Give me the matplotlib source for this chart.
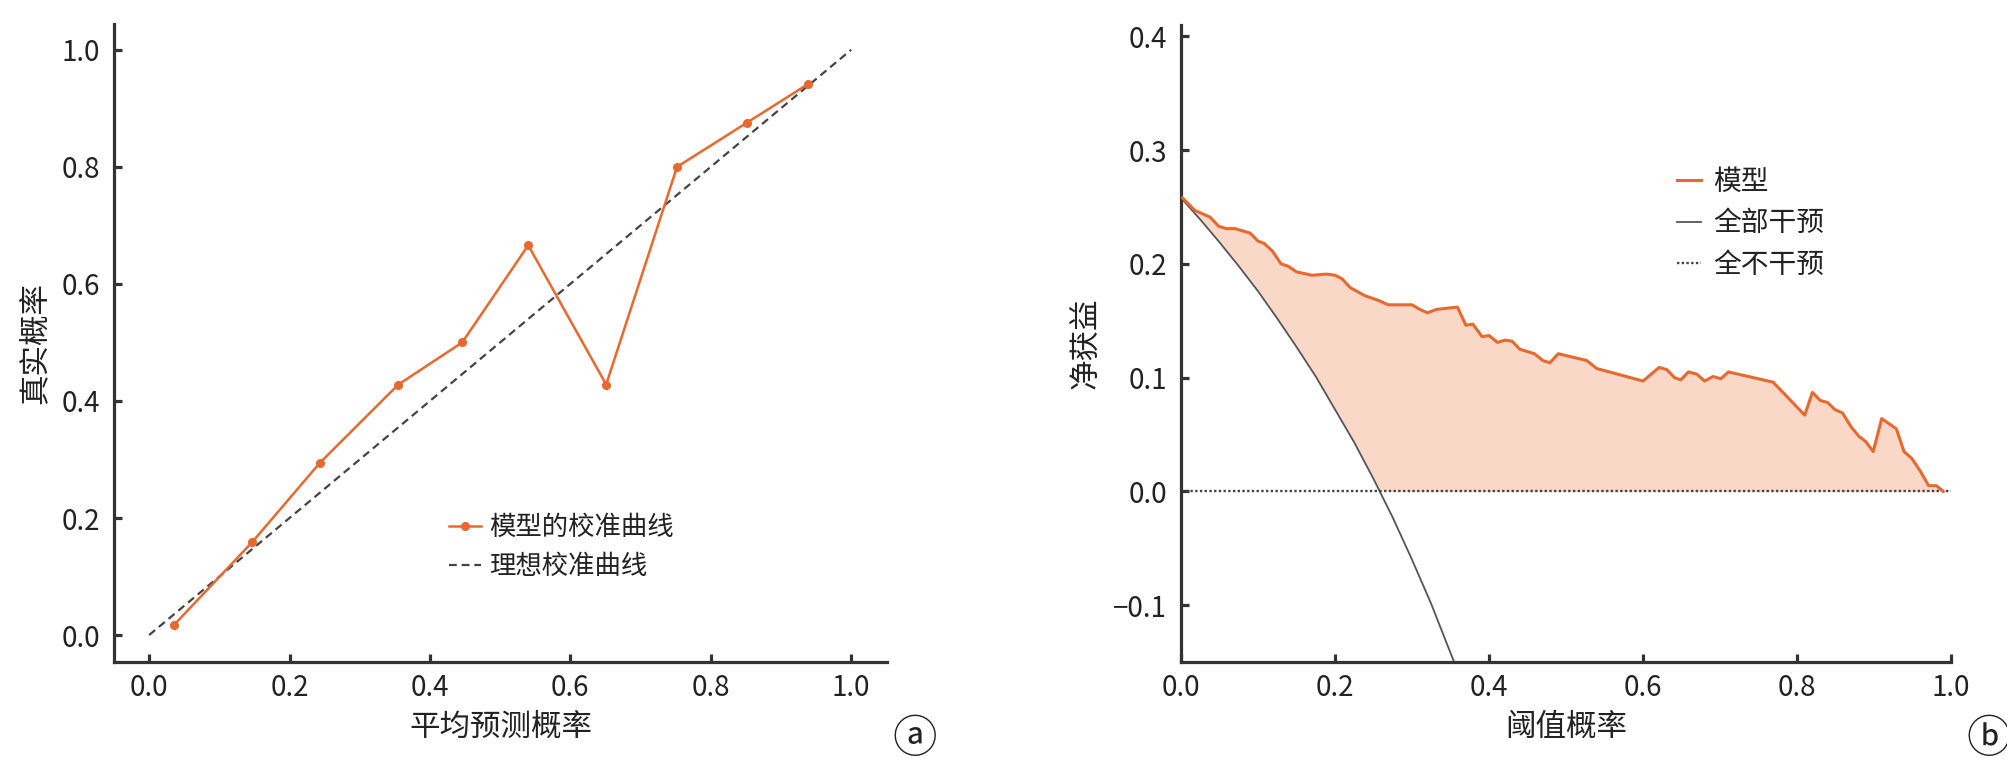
import numpy as np
import matplotlib
matplotlib.use("Agg")
import matplotlib.pyplot as plt

plt.rcParams['font.family'] = ['Noto Sans CJK SC', 'DejaVu Sans']
plt.rcParams['axes.unicode_minus'] = True

# ---------------- data: calibration (a) ----------------
calib_pred = [0.036, 0.147, 0.243, 0.355, 0.446, 0.540, 0.651, 0.752, 0.851, 0.938]
calib_true = [0.018, 0.159, 0.294, 0.428, 0.500, 0.666, 0.428, 0.800, 0.875, 0.941]
ideal_x = [0.0, 1.0]
ideal_y = [0.0, 1.0]
calib_ticks = [0.0, 0.2, 0.4, 0.6, 0.8, 1.0]

# ---------------- data: decision curve (b) ----------------
model_t = [0.002, 0.018, 0.038, 0.049, 0.059, 0.070, 0.090, 0.100, 0.108, 0.119,
           0.130, 0.139, 0.150, 0.170, 0.189, 0.200, 0.209, 0.220, 0.239, 0.256,
           0.269, 0.300, 0.310, 0.320, 0.332, 0.359, 0.370, 0.379, 0.391, 0.400,
           0.411, 0.421, 0.430, 0.440, 0.459, 0.470, 0.479, 0.490, 0.527, 0.540,
           0.600, 0.621, 0.631, 0.641, 0.649, 0.659, 0.670, 0.680, 0.691, 0.701,
           0.711, 0.769, 0.810, 0.820, 0.830, 0.840, 0.849, 0.859, 0.871, 0.881,
           0.889, 0.899, 0.910, 0.929, 0.939, 0.949, 0.960, 0.971, 0.981, 0.990]
model_nb = [0.258, 0.247, 0.241, 0.233, 0.231, 0.231, 0.227, 0.220, 0.218, 0.211,
            0.200, 0.198, 0.193, 0.190, 0.191, 0.190, 0.187, 0.179, 0.172, 0.168,
            0.164, 0.164, 0.160, 0.157, 0.160, 0.162, 0.146, 0.147, 0.136, 0.137,
            0.131, 0.133, 0.132, 0.125, 0.121, 0.115, 0.113, 0.121, 0.115, 0.108,
            0.097, 0.109, 0.107, 0.100, 0.098, 0.105, 0.103, 0.097, 0.101, 0.099,
            0.105, 0.096, 0.067, 0.087, 0.080, 0.078, 0.072, 0.069, 0.056, 0.048,
            0.044, 0.035, 0.064, 0.055, 0.035, 0.029, 0.018, 0.005, 0.005, 0.000]
all_t = [0.0, 0.025, 0.05, 0.075, 0.10, 0.125, 0.15, 0.175, 0.20, 0.225,
         0.25, 0.275, 0.30, 0.325, 0.35, 0.36]
all_nb = [0.258, 0.239, 0.219, 0.198, 0.176, 0.152, 0.127, 0.101, 0.072, 0.043,
          0.011, -0.023, -0.060, -0.099, -0.142, -0.159]
none_t = [0.0, 1.0]
none_nb = [0.0, 0.0]
dca_xticks = [0.0, 0.2, 0.4, 0.6, 0.8, 1.0]
dca_yticks = [-0.1, 0.0, 0.1, 0.2, 0.3, 0.4]

ORANGE = '#e8692f'
FILL = '#f9d8c8'
DARK = '#333333'
TXT = '#222222'

fig = plt.figure(figsize=(20.08, 7.60), dpi=100)

def style_axes(ax):
    for s in ['top', 'right']:
        ax.spines[s].set_visible(False)
    for s in ['left', 'bottom']:
        ax.spines[s].set_linewidth(2.3)
        ax.spines[s].set_color(DARK)
    ax.tick_params(direction='in', length=6, width=2.3, color=DARK,
                   labelsize=20, labelcolor=TXT)
    ax.tick_params(axis='x', pad=8)
    ax.tick_params(axis='y', pad=10)

# ---------- panel a ----------
ax1 = fig.add_axes([114/2008, 1-662/760, (887-114)/2008, (662-24)/760])
style_axes(ax1)
ax1.plot(calib_pred, calib_true, color=ORANGE, lw=1.8, marker='o', ms=5.5,
         label='模型的校准曲线', zorder=3)
ax1.plot(ideal_x, ideal_y, color='#444444', lw=1.6, ls=(0, (3.5, 2.2)),
         label='理想校准曲线', zorder=2)
ax1.set_xlim(-0.05, 1.051)
ax1.set_ylim(-0.046, 1.044)
ax1.set_xticks(calib_ticks)
ax1.set_yticks(calib_ticks)
ax1.set_xticklabels([f'{v:.1f}' for v in calib_ticks])
ax1.set_yticklabels([f'{v:.1f}' for v in calib_ticks])
ax1.set_xlabel('平均预测概率', fontsize=22, color=TXT, labelpad=6)
ax1.set_ylabel('真实概率', fontsize=22, color=TXT, labelpad=8)
leg1 = ax1.legend(loc='upper left', bbox_to_anchor=(0.42, 0.248), frameon=False,
                  fontsize=19, handlelength=1.2, handletextpad=0.3,
                  labelspacing=0.45, borderaxespad=0)
for t in leg1.get_texts():
    t.set_color(TXT)

# ---------- panel b ----------
ax2 = fig.add_axes([1181/2008, 1-662/760, (1951-1181)/2008, (662-25)/760])
style_axes(ax2)
lower = np.maximum(np.interp(model_t, all_t, all_nb), 0.0)
ax2.fill_between(model_t, lower, model_nb, color=FILL, lw=0, zorder=1)
ax2.plot(all_t, all_nb, color='#555555', lw=1.3, label='全部干预', zorder=2)
ax2.plot(none_t, none_nb, color='#444444', lw=1.7, ls=(0, (1, 1.0)),
         label='全不干预', zorder=2)
ax2.plot(model_t, model_nb, color=ORANGE, lw=2.2, label='模型', zorder=3)
ax2.set_xlim(0, 1.0)
ax2.set_ylim(-0.15, 0.41)
ax2.set_xticks(dca_xticks)
ax2.set_yticks(dca_yticks)
ax2.set_xticklabels([f'{v:.1f}' for v in dca_xticks])
ax2.set_yticklabels([f'{v:.1f}'.replace('-', '\u2212') for v in dca_yticks])
ax2.set_xlabel('阈值概率', fontsize=22, color=TXT, labelpad=6)
ax2.set_ylabel('净获益', fontsize=22, color=TXT, labelpad=8)
h, l = ax2.get_legend_handles_labels()
order = [2, 0, 1]
leg2 = ax2.legend([h[i] for i in order], [l[i] for i in order], loc='upper left',
                  bbox_to_anchor=(0.63, 0.795), frameon=False, fontsize=20,
                  handlelength=0.85, handletextpad=0.45, labelspacing=0.42,
                  borderaxespad=0)
for t in leg2.get_texts():
    t.set_color(TXT)

fig.text(915/2008, 1-739/760, 'ⓐ', fontsize=32, color=TXT, ha='center', va='center',
         family=['Noto Sans CJK SC', 'DejaVu Sans'])
fig.text(1989/2008, 1-739/760, 'ⓑ', fontsize=32, color=TXT, ha='center', va='center',
         family=['Noto Sans CJK SC', 'DejaVu Sans'])

fig.savefig('out.png', dpi=100, facecolor='white')
